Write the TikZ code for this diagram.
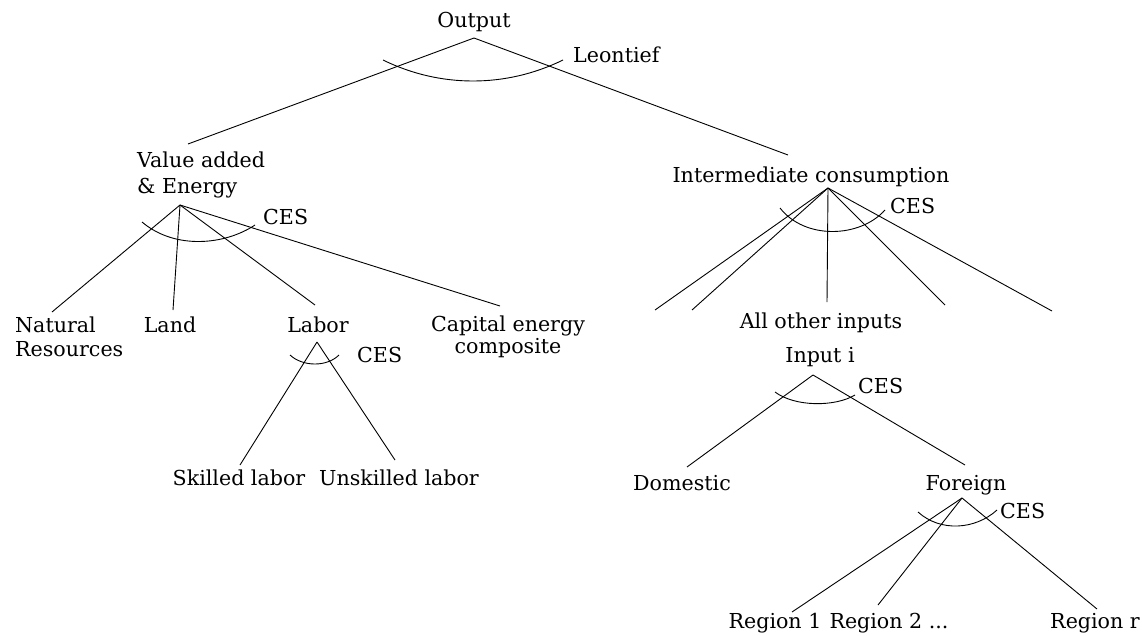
\documentclass[tikz,border=0pt]{standalone}
\usepackage{fontspec}
\setmainfont{DejaVu Serif}
\begin{document}
\begin{tikzpicture}[x=1pt,y=-1pt,
  lbl/.style={inner sep=0pt, font=\fontsize{20.6}{25}\selectfont, anchor=base},
  lblw/.style={lbl, anchor=base west},
  branch/.style={line width=0.9pt},
  arcline/.style={line width=0.9pt}]
\useasboundingbox (0,0) rectangle (1142,635);
% ---- labels ----
\node[lbl]  (out)  at (474,27)  {Output};
\node[lblw] (leon) at (573,62)  {Leontief};
\node[lblw,align=left,font=\fontsize{20.6}{26}\selectfont] (va) at (137,193) {Value added\\\& Energy};
\node[lblw] (ces1) at (263,224) {CES};
\node[lblw,align=left,font=\fontsize{20.6}{24}\selectfont] (nat) at (15,356) {Natural\\Resources};
\node[lbl]  (land) at (170,332) {Land};
\node[lbl]  (lab)  at (318,332) {Labor};
\node[lbl,align=center,font=\fontsize{20.6}{22}\selectfont] (cap) at (508,353) {Capital energy\\composite};
\node[lblw] (ces2) at (357,362) {CES};
\node[lbl]  (skl)  at (239,485) {Skilled labor};
\node[lbl]  (unskl) at (399,485) {Unskilled labor};
\node[lbl]  (ic)   at (811,182) {Intermediate consumption};
\node[lblw] (ces3) at (890,213) {CES};
\node[lbl]  (aoi)  at (821,328) {All other inputs};
\node[lbl]  (inp)  at (820,362) {Input i};
\node[lblw] (ces4) at (858,393) {CES};
\node[lbl]  (dom)  at (682,490) {Domestic};
\node[lbl]  (for)  at (966,490) {Foreign};
\node[lblw] (ces5) at (1000,518) {CES};
\node[lbl]  (r1)   at (775,628) {Region 1};
\node[lbl]  (r2)   at (889,628) {Region 2 ...};
\node[lbl]  (rr)   at (1095,628) {Region r};
% ---- apex and end coordinates ----
\coordinate (outA) at (474,38);
\coordinate (vaE)  at (188,144);
\coordinate (icE)  at (788,155);
\coordinate (vaA)  at (180,205);
\coordinate (natE) at (52,312);
\coordinate (landE) at (173,310);
\coordinate (labE) at (315,305);
\coordinate (capE) at (500,306);
\coordinate (labA) at (317,342);
\coordinate (sklE) at (240,465);
\coordinate (unsE) at (395,460);
\coordinate (icA)  at (828,188);
\coordinate (ic1)  at (655,310);
\coordinate (ic2)  at (692,310);
\coordinate (ic3)  at (827,302);
\coordinate (ic4)  at (945,305);
\coordinate (ic5)  at (1052,311);
\coordinate (inA)  at (813,375);
\coordinate (domE) at (687,467);
\coordinate (forE) at (965,465);
\coordinate (forA) at (962,498);
\coordinate (r1E)  at (792,612);
\coordinate (r2E)  at (878,605);
\coordinate (rrE)  at (1097,609);
% ---- branches ----
\draw[branch] (vaE) -- (outA) -- (icE);
\draw[branch] (vaA) -- (natE);
\draw[branch] (vaA) -- (landE);
\draw[branch] (vaA) -- (labE);
\draw[branch] (vaA) -- (capE);
\draw[branch] (labA) -- (sklE);
\draw[branch] (labA) -- (unsE);
\draw[branch] (icA) -- (ic1);
\draw[branch] (icA) -- (ic2);
\draw[branch] (icA) -- (ic3);
\draw[branch] (icA) -- (ic4);
\draw[branch] (icA) -- (ic5);
\draw[branch] (inA) -- (domE);
\draw[branch] (inA) -- (forE);
\draw[branch] (forA) -- (r1E);
\draw[branch] (forA) -- (r2E);
\draw[branch] (forA) -- (rrE);
% ---- elasticity arcs ----
\draw[arcline] (383,60) .. controls (440,88) and (506,88) .. (563,60);
\draw[arcline] (142,222) .. controls (175,250) and (225,245) .. (255,225);
\draw[arcline] (290,355) .. controls (303,367) and (327,367) .. (339,355);
\draw[arcline] (780,208) .. controls (805,240) and (860,238) .. (885,210);
\draw[arcline] (775,392) .. controls (795,407) and (835,407) .. (855,395);
\draw[arcline] (918,512) .. controls (940,532) and (975,530) .. (997,510);
\end{tikzpicture}
\end{document}
